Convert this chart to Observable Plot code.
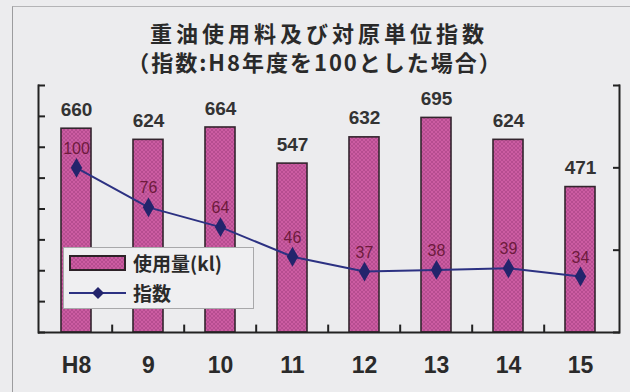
<!DOCTYPE html>
<html><head><meta charset="utf-8">
<script src="https://cdn.jsdelivr.net/npm/d3@7"></script>
<script src="https://cdn.jsdelivr.net/npm/@observablehq/plot@0.6"></script>
<style>
html,body{margin:0;padding:0;background:#ececee;}
#wrap{position:relative;width:630px;height:392px;overflow:hidden;font-family:"Noto Sans CJK JP","Liberation Sans",sans-serif;}
#frame{position:absolute;left:12px;top:6px;width:640px;height:400px;border-left:1.5px solid #9c9c9e;border-top:1.5px solid #b4b4b6;}
#head{position:relative;height:78px;}
.t{position:absolute;left:0;width:630px;text-align:center;font-weight:bold;color:#2a2a2a;white-space:nowrap;}
#t1{top:19px;font-size:22px;line-height:26px;letter-spacing:4px;padding-left:4px;}
#t2{top:48px;font-size:22px;line-height:26px;letter-spacing:2px;padding-left:0px;}
#chart{position:absolute;left:0;top:78px;}
#legend{position:absolute;left:63px;top:247px;width:189px;height:60px;background:#efeff1;border:1px solid #a8a8aa;}
.lab{position:absolute;left:69px;font-size:19px;font-weight:bold;color:#2a2a2a;line-height:22px;white-space:nowrap;}
</style></head>
<body>
<div id="wrap">
  <div id="frame"></div>
  <div id="head">
    <div class="t" id="t1">重油使用料及び対原単位指数</div>
    <div class="t" id="t2">（指数:H8年度を100とした場合）</div>
  </div>
  <div id="chart"></div>
  <div id="legend">
    <svg width="62" height="60" style="position:absolute;left:4px;top:0">
      <defs>
        <pattern id="hatchL" width="4" height="4" patternUnits="userSpaceOnUse">
          <rect width="4" height="4" fill="#cc5ca2"></rect>
          <path d="M0,0L4,4M4,0L0,4" stroke="#a84384" stroke-width="0.6"></path>
        </pattern>
      </defs>
      <rect x="2" y="8" width="55" height="14" fill="url(#hatchL)" stroke="#2e2228" stroke-width="2"></rect>
      <line x1="1" x2="58" y1="45" y2="45" stroke="#2c3182" stroke-width="2"></line>
      <path d="M30,39L36,45L30,51L24,45Z" fill="#23246c"></path>
    </svg>
    <div class="lab" style="top:4px">使用量(kl)</div>
    <div class="lab" style="top:34px">指数</div>
  </div>
</div>
<script>
const years = ["H8", "9", "10", "11", "12", "13", "14", "15"];
const usage = [660, 624, 664, 547, 632, 695, 624, 471];
const index = [100, 76, 64, 46, 37, 38, 39, 34];
const usageMax = 800;
const indexMax = 150;
const usageTicks = [0, 100, 200, 300, 400, 500, 600, 700, 800];
const indexTicks = [0, 50, 100, 150];
const catTickLen = 24;

const data = years.map((y, i) => ({year: y, usage: usage[i], index: index[i]}));
const k = usageMax / indexMax;

const W = 630, H = 314, mL = 38, mR = 11;
const step = (W - mL - mR) / years.length;

const plot = Plot.plot({
  width: W, height: H,
  marginTop: 7, marginBottom: 60, marginLeft: mL, marginRight: mR,
  style: {background: "transparent", overflow: "visible"},
  x: {domain: years, paddingInner: 0.58, paddingOuter: 0.29, axis: null, label: null},
  y: {domain: [0, usageMax], axis: null, label: null},
  marks: [
    Plot.barY(data, {x: "year", y: "usage", fill: "url(#hatch)", stroke: "#33252d", strokeWidth: 1.6}),
    Plot.text(data, {x: "year", y: "usage", text: d => String(d.usage), dy: -19,
      fontSize: 19, fontWeight: "bold", fill: "#333", fontFamily: "Liberation Sans, Arial, sans-serif"}),
    Plot.line(data, {x: "year", y: d => d.index * k, stroke: "#2c3182", strokeWidth: 2}),
    Plot.dot(data, {x: "year", y: d => d.index * k, symbol: "diamond", r: 6, fill: "#23246c", stroke: "none"}),
    Plot.text(data, {x: "year", y: d => d.index * k, text: d => String(d.index), dy: -19,
      fontSize: 16, fill: "#6e1a3c", fontFamily: "Liberation Sans, Arial, sans-serif"}),
    Plot.ruleY([0], {stroke: "#222", strokeWidth: 2}),
    Plot.frame({anchor: "left", stroke: "#222", strokeWidth: 2}),
    Plot.frame({anchor: "right", stroke: "#222", strokeWidth: 2}),
    Plot.axisY(usageTicks, {anchor: "left", label: null, tickSize: 7, dx: 7, tickFormat: () => "", stroke: "#222", strokeWidth: 2}),
    Plot.axisY(indexTicks.map(v => v * k), {anchor: "right", label: null, tickSize: 7, dx: -7, tickFormat: () => "", stroke: "#222", strokeWidth: 2}),
    Plot.ruleX(years.slice(1), {x: d => d, y1: () => 0, y2: () => catTickLen, dx: -step / 2, stroke: "#222", strokeWidth: 2}),
    Plot.axisX(years, {anchor: "bottom", label: null, tickSize: 0, tickPadding: 24, fontSize: 23, fontWeight: "bold",
      fill: "#2a2a2a", fontFamily: "Liberation Sans, Arial, sans-serif"})
  ]
});

const svg = d3.select(plot);
const defs = svg.insert("defs", ":first-child");
const pat = defs.append("pattern").attr("id", "hatch").attr("width", 4).attr("height", 4).attr("patternUnits", "userSpaceOnUse");
pat.append("rect").attr("width", 4).attr("height", 4).attr("fill", "#cc5ca2");
pat.append("path").attr("d", "M0,0L4,4M4,0L0,4").attr("stroke", "#a84384").attr("stroke-width", 0.6);

document.getElementById("chart").appendChild(plot);
</script>
</body></html>
